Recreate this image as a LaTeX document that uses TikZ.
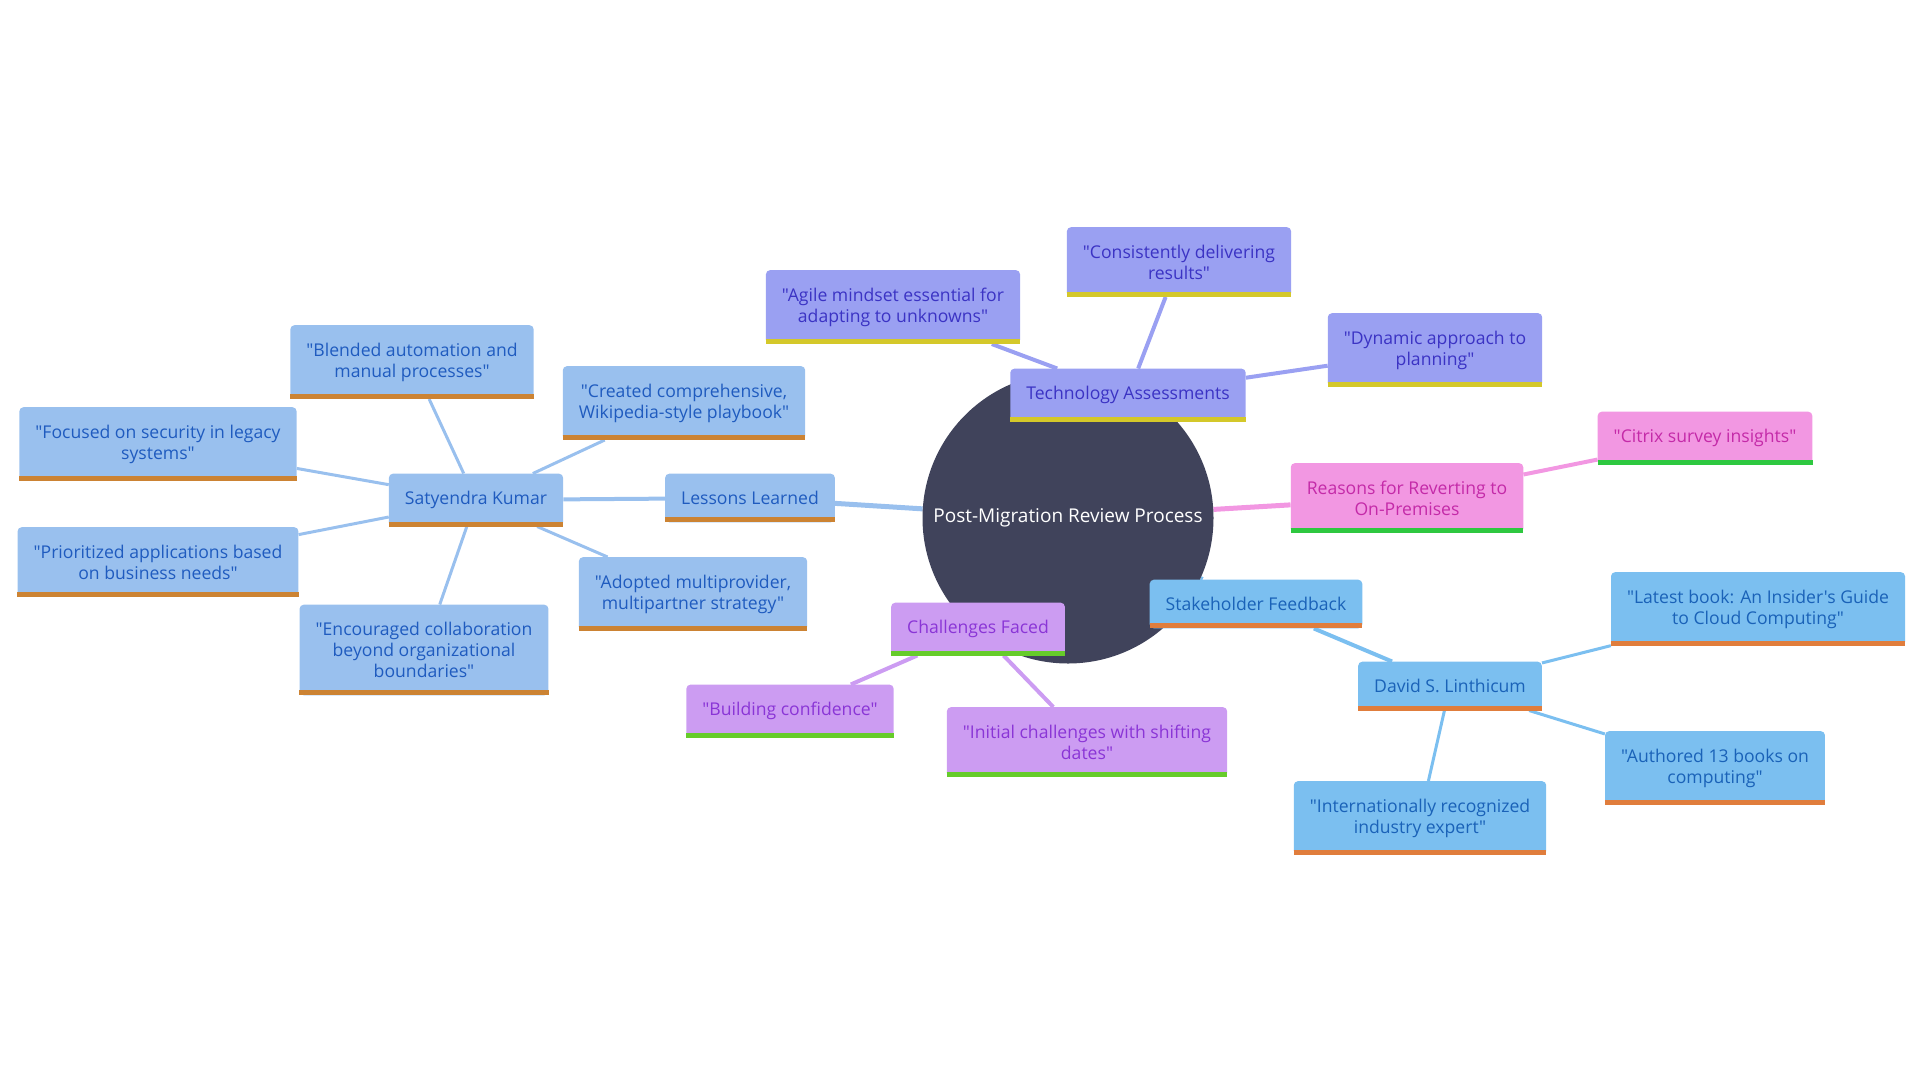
\documentclass[tikz,border=0pt]{standalone}
\usepackage{fontspec}
\setmainfont{Open Sans}[Ligatures=TeXOff]
\usetikzlibrary{calc}
\pgfdeclarelayer{background}
\pgfsetlayers{background,main}

\definecolor{rootfill}{HTML}{40435B}
\definecolor{techfill}{HTML}{9AA0F2}
\definecolor{techtext}{HTML}{3B33C4}
\definecolor{techline}{HTML}{D4C82A}
\definecolor{reasfill}{HTML}{F297E2}
\definecolor{reastext}{HTML}{C42AA8}
\definecolor{reasline}{HTML}{2EC840}
\definecolor{stakfill}{HTML}{7BBFF0}
\definecolor{staktext}{HTML}{1A62B8}
\definecolor{stakline}{HTML}{E07D3C}
\definecolor{chalfill}{HTML}{CC9CF2}
\definecolor{chaltext}{HTML}{8A35D6}
\definecolor{challine}{HTML}{66CC2A}
\definecolor{lessfill}{HTML}{99C0EE}
\definecolor{lesstext}{HTML}{1F5BBF}
\definecolor{lessline}{HTML}{CC8333}

\tikzset{
    my-root/.style={
        circle, fill=rootfill, text=white, minimum size=291pt, inner sep=0pt,
        font=\fontsize{19}{21}\selectfont
    },
    my-box/.style={
        rectangle, rounded corners=4pt, align=center, inner xsep=16pt, inner ysep=17.5pt,
        font=\fontsize{17.6}{21}\selectfont
    },
    my-stripe/.style={
        append after command={([yshift=2.5pt]\tikzlastnode.south west)
            edge[draw=#1, line width=5pt, rounded corners=0pt] ([yshift=2.5pt]\tikzlastnode.south east)}
    },
    my-tech/.style={my-box, fill=techfill, text=techtext, my-stripe=techline},
    my-reas/.style={my-box, fill=reasfill, text=reastext, my-stripe=reasline},
    my-stak/.style={my-box, fill=stakfill, text=staktext, my-stripe=stakline},
    my-chal/.style={my-box, fill=chalfill, text=chaltext, my-stripe=challine},
    my-less/.style={my-box, fill=lessfill, text=lesstext, my-stripe=lessline},
    my-link-1/.style={line width=5pt},
    my-link-2/.style={line width=4pt},
    my-link-3/.style={line width=3pt},
}

\begin{document}
\begin{tikzpicture}[x=1pt, y=-1pt]

        \useasboundingbox (0, 0) rectangle (1920, 1080);

        % ROOT
        \node[my-root] (ROOT) at (1068, 518) {Post-Migration Review Process};

        % TECHNOLOGY ASSESSMENTS
        \node[my-tech] (TECH)    at (1128, 395) {Technology Assessments};
        \node[my-tech] (AGILE)   at (893, 307)  {"Agile mindset essential for\\adapting to unknowns"};
        \node[my-tech] (CONSIST) at (1179, 262) {"Consistently delivering\\results"};
        \node[my-tech] (DYNAMIC) at (1435, 350) {"Dynamic approach to\\planning"};

        % REASONS FOR REVERTING
        \node[my-reas] (REAS)   at (1407, 498) {Reasons for Reverting to\\On-Premises};
        \node[my-reas] (CITRIX) at (1705, 438) {"Citrix survey insights"};

        % STAKEHOLDER FEEDBACK
        \node[my-stak] (STAK)     at (1256, 604) {Stakeholder Feedback};
        \node[my-stak] (DAVID)    at (1450, 686) {David S. Linthicum};
        \node[my-stak] (LATEST)   at (1758, 609) {"Latest book: An Insider's Guide\\to Cloud Computing"};
        \node[my-stak] (AUTHORED) at (1715, 768) {"Authored 13 books on\\computing"};
        \node[my-stak] (EXPERT)   at (1420, 818) {"Internationally recognized\\industry expert"};

        % CHALLENGES FACED
        \node[my-chal] (CHAL)    at (978, 629)  {Challenges Faced};
        \node[my-chal] (CONFID)  at (790, 711)  {"Building confidence"};
        \node[my-chal] (INITIAL) at (1087, 742) {"Initial challenges with shifting\\dates"};

        % LESSONS LEARNED
        \node[my-less] (LESS)    at (750, 498) {Lessons Learned};
        \node[my-less] (SATY)    at (476, 500) {Satyendra Kumar};
        \node[my-less] (BLENDED) at (412, 362) {"Blended automation and\\manual processes"};
        \node[my-less] (CREATED) at (684, 403) {"Created comprehensive,\\Wikipedia-style playbook"};
        \node[my-less] (FOCUSED) at (158, 444) {"Focused on security in legacy\\systems"};
        \node[my-less] (PRIOR)   at (158, 562) {"Prioritized applications based\\on business needs"};
        \node[my-less] (ENCOUR)  at (424, 650) {"Encouraged collaboration\\beyond organizational\\boundaries"};
        \node[my-less] (ADOPTED) at (693, 594) {"Adopted multiprovider,\\multipartner strategy"};

        % CONNECTIONS (BEHIND THE NODES)
        \begin{pgfonlayer}{background}
            \draw[my-link-1, techfill] (ROOT) -- (TECH);
            \draw[my-link-2, techfill] (TECH) -- (AGILE);
            \draw[my-link-2, techfill] (TECH) -- (CONSIST);
            \draw[my-link-2, techfill] (TECH) -- (DYNAMIC);

            \draw[my-link-1, reasfill] (ROOT) -- (REAS);
            \draw[my-link-2, reasfill] (REAS) -- (CITRIX);

            \draw[my-link-1, stakfill] (ROOT) -- (STAK);
            \draw[my-link-2, stakfill] (STAK) -- (DAVID);
            \draw[my-link-3, stakfill] (DAVID) -- (LATEST);
            \draw[my-link-3, stakfill] (DAVID) -- (AUTHORED);
            \draw[my-link-3, stakfill] (DAVID) -- (EXPERT);

            \draw[my-link-1, chalfill] (ROOT) -- (CHAL);
            \draw[my-link-2, chalfill] (CHAL) -- (CONFID);
            \draw[my-link-2, chalfill] (CHAL) -- (INITIAL);

            \draw[my-link-1, lessfill] (ROOT) -- (LESS);
            \draw[my-link-2, lessfill] (LESS) -- (SATY);
            \draw[my-link-3, lessfill] (SATY) -- (BLENDED);
            \draw[my-link-3, lessfill] (SATY) -- (CREATED);
            \draw[my-link-3, lessfill] (SATY) -- (FOCUSED);
            \draw[my-link-3, lessfill] (SATY) -- (PRIOR);
            \draw[my-link-3, lessfill] (SATY) -- (ENCOUR);
            \draw[my-link-3, lessfill] (SATY) -- (ADOPTED);
        \end{pgfonlayer}

    \end{tikzpicture}
\end{document}
